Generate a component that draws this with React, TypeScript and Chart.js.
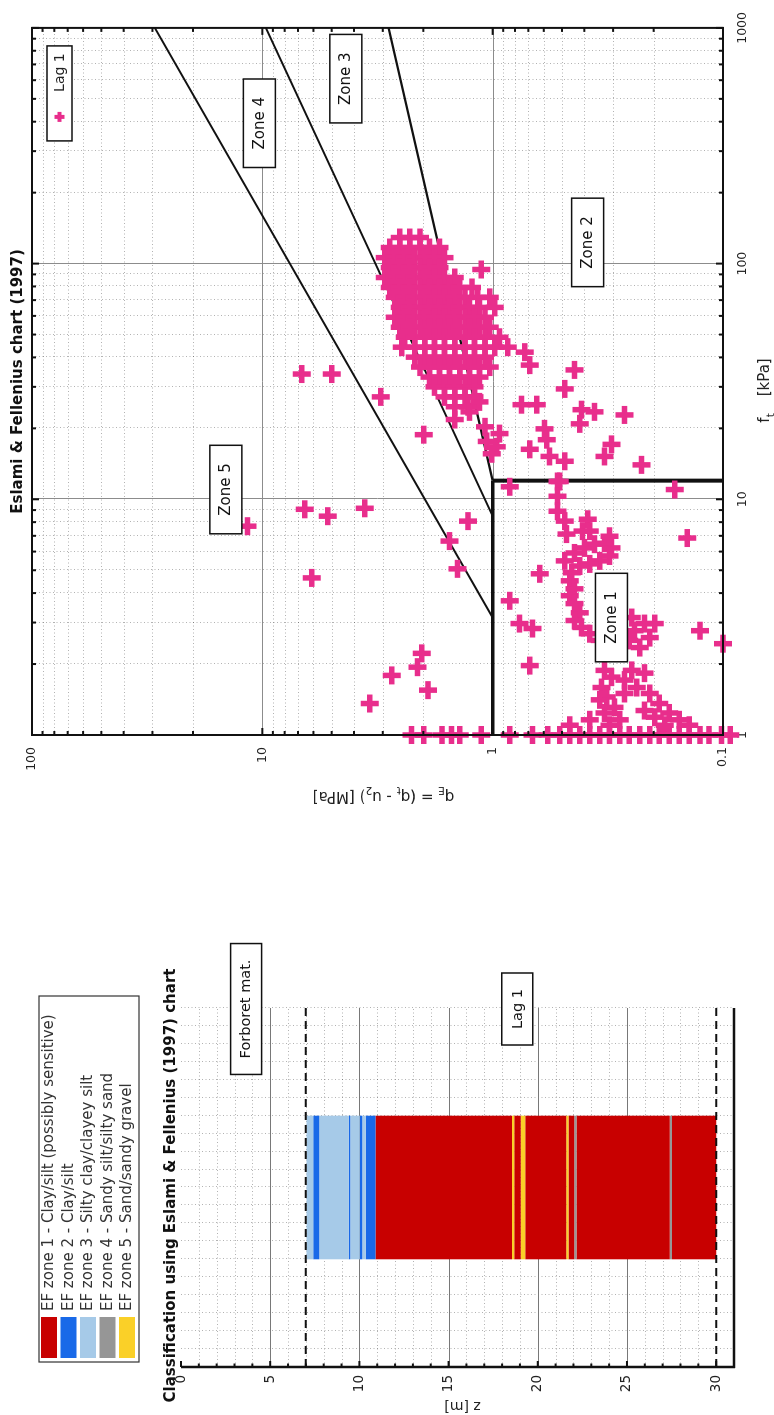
import React, { useEffect, useRef } from "react";
import { Chart, registerables } from "chart.js";

Chart.register(...registerables);

const FONT = '"DejaVu Sans", Verdana, sans-serif';
const PINK = "rgb(232, 46, 140)";

// ---------------- Eslami & Fellenius chart (fs [kPa] vs qE [MPa]) ----------------
const fsTickLabels = [1, 10, 100, 1000];
const qeTickLabels = [0.1, 1, 10, 100];

// dense cloud, read row by row: one fs value per row, qE values along the row
const clusterRowFs = [129, 117, 106, 96.2, 87.3, 79.2, 71.9, 65.2, 59.2, 53.7, 48.7, 44.2, 40.1, 36.4, 33.0, 30.0, 27.2, 24.7];
const clusterRowQe = [
  [2.53, 2.29, 2.07],
  [2.8, 2.53, 2.29, 2.07, 1.88, 1.7],
  [2.94, 2.66, 2.41, 2.18, 1.97, 1.79, 1.62],
  [2.8, 2.53, 2.29, 2.07, 1.88, 1.7],
  [2.94, 2.66, 2.41, 2.18, 1.97, 1.79, 1.62, 1.46],
  [2.8, 2.53, 2.29, 2.07, 1.88, 1.7, 1.54, 1.39, 1.23],
  [2.66, 2.41, 2.18, 1.97, 1.79, 1.62, 1.46, 1.32, 1.16, 1.03],
  [2.53, 2.29, 2.07, 1.88, 1.7, 1.54, 1.39, 1.26, 1.14, 0.98],
  [2.66, 2.41, 2.18, 1.97, 1.79, 1.62, 1.46, 1.32, 1.2, 1.08],
  [2.53, 2.29, 2.07, 1.88, 1.7, 1.54, 1.39, 1.26, 1.14, 1.03],
  [2.41, 2.18, 1.97, 1.79, 1.62, 1.46, 1.32, 1.2, 1.08, 0.933],
  [2.48, 2.18, 1.97, 1.79, 1.62, 1.46, 1.32, 1.2, 1.08, 0.98, 0.861],
  [2.18, 1.97, 1.79, 1.62, 1.46, 1.32, 1.2, 1.08],
  [2.07, 1.88, 1.7, 1.54, 1.39, 1.26, 1.14, 1.03],
  [1.88, 1.7, 1.54, 1.39, 1.26, 1.14],
  [1.79, 1.62, 1.46, 1.32, 1.2],
  [1.62, 1.46, 1.32, 1.2],
  [1.46, 1.28],
];

// [fs, qE]
const zone2Points: [number, number][] = [
  [94.4, 1.12], [42.1, 0.726], [37.1, 0.69], [35.4, 0.441], [29.4, 0.487], [25.2, 0.749], [25.2, 0.644],
  [24.0, 0.411], [23.5, 0.361], [22.8, 0.268], [20.9, 0.419], [19.9, 0.595], [17.9, 0.583], [17.1, 0.305],
  [15.2, 0.327], [16.3, 0.69], [15.2, 0.566], [14.5, 0.487], [14.0, 0.226], [11.3, 0.844], [11.9, 0.512],
  [11.0, 0.162], [17.6, 1.06], [16.7, 0.961], [20.3, 1.08], [19.0, 0.933], [15.6, 1.01], [21.8, 1.46],
  [18.8, 1.99], [23.5, 1.26], [25.9, 1.14],
];

const outlierPoints: [number, number][] = [
  [27.2, 3.06], [34.0, 6.74], [34.0, 4.99], [7.69, 11.6], [9.07, 6.54], [8.48, 5.2], [9.16, 3.59], [4.64, 6.1],
  [8.08, 1.28], [6.65, 1.54], [5.07, 1.42], [2.22, 2.03], [1.94, 2.12], [1.79, 2.74], [1.55, 1.91], [1.36, 3.42],
];

const zone1Points: [number, number][] = [
  [11.9, 0.523], [10.3, 0.523], [8.9, 0.523], [8.08, 0.487], [8.23, 0.387], [7.33, 0.407], [6.85, 0.143],
  [4.83, 0.625], [3.71, 0.844], [2.97, 0.764], [2.83, 0.671], [1.97, 0.69], [2.77, 0.126], [2.44, 0.1],
  [5.48, 0.487], [5.92, 0.441], [6.22, 0.399], [6.45, 0.361], [6.51, 0.327], [6.22, 0.305], [5.75, 0.311],
  [5.48, 0.343], [5.32, 0.379], [5.21, 0.419], [4.88, 0.454], [4.51, 0.463], [4.17, 0.441], [3.9, 0.463],
  [3.61, 0.441], [3.3, 0.419], [3.06, 0.441], [2.86, 0.411], [2.69, 0.379], [2.52, 0.343], [7.33, 0.379],
  [6.97, 0.311], [7.12, 0.478], [3.15, 0.249], [2.97, 0.219], [2.97, 0.198], [2.77, 0.242], [2.52, 0.255],
  [2.35, 0.23], [2.59, 0.208], [1.88, 0.327], [1.76, 0.305], [1.59, 0.337], [1.45, 0.32], [1.31, 0.296],
  [1.24, 0.327], [1.88, 0.249], [1.83, 0.219], [1.59, 0.237], [1.5, 0.208], [1.36, 0.189], [1.27, 0.219],
  [1.24, 0.171], [1.19, 0.198], [1.71, 0.268], [1.5, 0.268], [1.16, 0.155], [1.1, 0.14], [1.1, 0.179],
  [1.1, 0.463], [1.16, 0.379], [1.1, 0.311], [1.16, 0.281], [1.41, 0.343],
];

// points sitting on fs = 1 kPa
const baseRowQe = [2.25, 1.99, 1.66, 1.51, 1.39, 1.12, 0.844, 0.671, 0.577, 0.512, 0.463, 0.419, 0.379, 0.343,
  0.311, 0.281, 0.255, 0.23, 0.208, 0.189, 0.171, 0.155, 0.14, 0.126, 0.115, 0.1015, 0.093];

// zone boundaries, [fs, qE] end points
const boundary45: [number, number][] = [[3.15, 1], [1000, 29.3]];
const boundary34: [number, number][] = [[8.5, 1], [1000, 9.66]];
const boundary23: [number, number][] = [[12, 1], [1000, 2.83]];
const zone1Top: [number, number][] = [[1, 1], [12, 1]];
const zone1Side: [number, number][] = [[12, 0.1], [12, 1]];

const zoneLabelText = ["Zone 1", "Zone 2", "Zone 3", "Zone 4", "Zone 5"];
const zoneLabelFs = [3.15, 123, 609, 394, 11.0];
const zoneLabelQe = [0.305, 0.387, 4.34, 10.3, 14.4];

// ---------------- Classification profile ----------------
const zoneNames = [
  "EF zone 1 - Clay/silt (possibly sensitive)",
  "EF zone 2 - Clay/silt",
  "EF zone 3 - Silty clay/clayey silt",
  "EF zone 4 - Sandy silt/silty sand",
  "EF zone 5 - Sand/sandy gravel",
];
const zoneColors = ["rgb(200, 0, 0)", "rgb(25, 105, 232)", "rgb(166, 202, 232)", "rgb(150, 150, 150)", "rgb(250, 208, 40)"];

const segStart = [7.03, 7.42, 7.75, 9.41, 9.49, 10.02, 10.16, 10.35, 10.9, 18.55, 18.68, 19.05, 19.3, 21.6, 21.72, 22.05, 22.17, 27.4, 27.52];
const segEnd = [7.42, 7.75, 9.41, 9.49, 10.02, 10.16, 10.35, 10.9, 18.55, 18.68, 19.05, 19.3, 21.6, 21.72, 22.05, 22.17, 27.4, 27.52, 30.0];
const segZone = [3, 2, 3, 2, 3, 2, 3, 2, 1, 5, 1, 5, 1, 5, 1, 4, 1, 4, 1];

const zTicks = [0, 5, 10, 15, 20, 25, 30];
const layerBounds = [7.0, 30.0];
const layerNames = ["Forboret mat.", "Lag 1"];
const layerLabelZ = [3.65, 18.85];

// ---------------- helpers ----------------
type Part = { t?: string; sub?: boolean; gap?: number };

function drawRich(ctx: CanvasRenderingContext2D, parts: Part[], cx: number, cy: number, size: number) {
  const subSize = size * 0.7;
  let total = 0;
  const widths = parts.map((p) => {
    if (p.gap !== undefined) {
      total += p.gap;
      return p.gap;
    }
    ctx.font = `${p.sub ? subSize : size}px ${FONT}`;
    const w = ctx.measureText(p.t || "").width;
    total += w;
    return w;
  });
  let x = cx - total / 2;
  ctx.textAlign = "left";
  ctx.textBaseline = "alphabetic";
  const base = cy + size * 0.36;
  parts.forEach((p, i) => {
    if (p.t) {
      ctx.font = `${p.sub ? subSize : size}px ${FONT}`;
      ctx.fillText(p.t, x, p.sub ? base + size * 0.28 : base);
    }
    x += widths[i];
  });
}

function drawBoxLabel(ctx: CanvasRenderingContext2D, text: string, cx: number, cy: number, size: number, padX: number, h: number) {
  ctx.font = `${size}px ${FONT}`;
  const w = ctx.measureText(text).width + padX * 2;
  ctx.fillStyle = "#fff";
  ctx.fillRect(cx - w / 2, cy - h / 2, w, h);
  ctx.strokeStyle = "#111";
  ctx.lineWidth = 1.5;
  ctx.setLineDash([]);
  ctx.strokeRect(cx - w / 2, cy - h / 2, w, h);
  ctx.fillStyle = "#111";
  ctx.textAlign = "center";
  ctx.textBaseline = "middle";
  ctx.fillText(text, cx, cy + 0.5);
}

function seg(ctx: CanvasRenderingContext2D, x1: number, y1: number, x2: number, y2: number) {
  ctx.beginPath();
  ctx.moveTo(x1, y1);
  ctx.lineTo(x2, y2);
  ctx.stroke();
}

const isDecade = (v: number) => Math.abs(Math.log10(v) - Math.round(Math.log10(v))) < 1e-6;

function logGridValues(decades: number[]) {
  const minor: number[] = [];
  decades.forEach((d) => {
    for (let k = 2; k <= 9; k++) minor.push(d * k);
  });
  return minor;
}

// ---------------- plugins ----------------
const eslamiDecor = {
  id: "eslamiDecor",
  beforeDatasetsDraw(chart: any) {
    const { ctx, chartArea: a } = chart;
    const xs = chart.scales.x;
    const ys = chart.scales.y;
    ctx.save();
    ctx.beginPath();
    ctx.rect(a.left, a.top, a.right - a.left, a.bottom - a.top);
    ctx.clip();
    ctx.lineWidth = 1;
    ctx.strokeStyle = "rgba(0,0,0,0.3)";
    ctx.setLineDash([1, 2.5]);
    logGridValues([1, 10, 100]).forEach((v) => {
      const p = Math.round(xs.getPixelForValue(v)) + 0.5;
      seg(ctx, p, a.top, p, a.bottom);
    });
    logGridValues([0.1, 1, 10]).forEach((v) => {
      const p = Math.round(ys.getPixelForValue(v)) + 0.5;
      seg(ctx, a.left, p, a.right, p);
    });
    ctx.setLineDash([]);
    ctx.strokeStyle = "rgb(140,140,140)";
    [10, 100].forEach((v) => {
      const p = Math.round(xs.getPixelForValue(v)) + 0.5;
      seg(ctx, p, a.top, p, a.bottom);
    });
    [1, 10].forEach((v) => {
      const p = Math.round(ys.getPixelForValue(v)) + 0.5;
      seg(ctx, a.left, p, a.right, p);
    });
    ctx.restore();
  },
  afterDraw(chart: any) {
    const { ctx, chartArea: a } = chart;
    const xs = chart.scales.x;
    const ys = chart.scales.y;
    ctx.save();
    // frame
    ctx.strokeStyle = "#111";
    ctx.lineWidth = 2;
    ctx.strokeRect(a.left, a.top, a.right - a.left, a.bottom - a.top);
    // inward ticks
    const xT = [...logGridValues([1, 10, 100]), ...fsTickLabels];
    xT.forEach((v) => {
      const p = xs.getPixelForValue(v);
      const len = isDecade(v) ? 7 : 4;
      seg(ctx, p, a.bottom, p, a.bottom - len);
      seg(ctx, p, a.top, p, a.top + len);
    });
    const yT = [...logGridValues([0.1, 1, 10]), ...qeTickLabels];
    yT.forEach((v) => {
      const p = ys.getPixelForValue(v);
      const len = isDecade(v) ? 7 : 4;
      seg(ctx, a.left, p, a.left + len, p);
      seg(ctx, a.right, p, a.right - len, p);
    });
    // zone labels
    zoneLabelText.forEach((t, i) => {
      drawBoxLabel(ctx, t, xs.getPixelForValue(zoneLabelFs[i]), ys.getPixelForValue(zoneLabelQe[i]), 15, 18, 32);
    });
    // legend
    const lw = 95, lh = 25;
    const lx = a.right - 18 - lw, ly = a.top + 15;
    ctx.fillStyle = "#fff";
    ctx.fillRect(lx, ly, lw, lh);
    ctx.strokeStyle = "#111";
    ctx.lineWidth = 1.5;
    ctx.strokeRect(lx, ly, lw, lh);
    ctx.strokeStyle = PINK;
    ctx.lineWidth = 4;
    const mx = lx + 24, my = ly + lh / 2;
    seg(ctx, mx - 5, my, mx + 5, my);
    seg(ctx, mx, my - 5, mx, my + 5);
    ctx.fillStyle = "#222";
    ctx.font = `14px ${FONT}`;
    ctx.textAlign = "left";
    ctx.textBaseline = "middle";
    ctx.fillText("Lag 1", lx + 49, my + 0.5);
    // title
    ctx.fillStyle = "#111";
    ctx.font = `bold 15px ${FONT}`;
    ctx.textAlign = "center";
    ctx.textBaseline = "middle";
    const cx = (a.left + a.right) / 2;
    ctx.fillText("Eslami & Fellenius chart (1997)", cx, 18.5);
    // axis titles
    ctx.fillStyle = "#222";
    drawRich(ctx, [{ t: "f" }, { t: "t", sub: true }, { gap: 17 }, { t: "[kPa]" }], cx - 9, a.bottom + 41, 15);
    ctx.save();
    ctx.translate(a.left - 62, (a.top + a.bottom) / 2 + 6);
    ctx.rotate(-Math.PI / 2);
    drawRich(
      ctx,
      [{ t: "q" }, { t: "E", sub: true }, { t: " = (q" }, { t: "t", sub: true }, { t: " - u" }, { t: "2", sub: true }, { t: ") [MPa]" }],
      0,
      0,
      15
    );
    ctx.restore();
    ctx.restore();
  },
};

const classDecor = {
  id: "classDecor",
  beforeDatasetsDraw(chart: any) {
    const { ctx, chartArea: a } = chart;
    const ys = chart.scales.y;
    ctx.save();
    ctx.lineWidth = 1;
    ctx.strokeStyle = "rgba(0,0,0,0.3)";
    ctx.setLineDash([1, 2.5]);
    for (let z = 1; z <= 31; z++) {
      if (z % 5 === 0) continue;
      const p = Math.round(ys.getPixelForValue(z)) + 0.5;
      seg(ctx, a.left, p, a.right, p);
    }
    const n = 20;
    for (let i = 1; i <= n; i++) {
      const p = Math.round(a.left + ((a.right - a.left) * i) / n) + 0.5;
      seg(ctx, p, a.top, p, a.bottom);
    }
    ctx.setLineDash([]);
    ctx.strokeStyle = "rgb(120,120,120)";
    zTicks.forEach((z) => {
      if (z === 0 || z === 30) return;
      const p = Math.round(ys.getPixelForValue(z)) + 0.5;
      seg(ctx, a.left, p, a.right, p);
    });
    ctx.restore();
  },
  afterDatasetsDraw(chart: any) {
    const { ctx, chartArea: a } = chart;
    const ys = chart.scales.y;
    ctx.save();
    ctx.strokeStyle = "#111";
    ctx.lineWidth = 2;
    ctx.setLineDash([8, 5]);
    layerBounds.forEach((z) => {
      const p = ys.getPixelForValue(z);
      seg(ctx, a.left, p, a.right, p);
    });
    ctx.setLineDash([]);
    ctx.lineWidth = 2.5;
    seg(ctx, a.left, a.top, a.left, a.bottom + 1);
    seg(ctx, a.left - 1, a.bottom, a.right, a.bottom);
    ctx.lineWidth = 2;
    for (let z = 0; z <= 31; z++) {
      const p = ys.getPixelForValue(z);
      const len = z % 5 === 0 ? 6 : 3.5;
      seg(ctx, a.left, p, a.left + len, p);
    }
    layerNames.forEach((t, i) => {
      drawBoxLabel(ctx, t, a.right - 1, ys.getPixelForValue(layerLabelZ[i]), 14.5, 16, 31);
    });
    ctx.restore();
  },
  afterDraw(chart: any) {
    const { ctx, chartArea: a } = chart;
    ctx.save();
    // title
    ctx.fillStyle = "#111";
    ctx.font = `bold 15px ${FONT}`;
    ctx.textAlign = "center";
    ctx.textBaseline = "middle";
    ctx.fillText("Classification using Eslami & Fellenius (1997) chart", (a.left + a.right) / 2 + 2, a.top - 10);
    // legend
    const bx = 53, by = 39, bw = 366, bh = 100;
    ctx.strokeStyle = "#333";
    ctx.lineWidth = 1.2;
    ctx.strokeRect(bx, by, bw, bh);
    zoneNames.forEach((name, i) => {
      const cy = by + 10 + i * 19.5;
      ctx.fillStyle = zoneColors[i];
      ctx.fillRect(bx + 4, cy - 8, 41, 16);
      ctx.fillStyle = "#333";
      ctx.font = `15px ${FONT}`;
      ctx.textAlign = "left";
      ctx.textBaseline = "middle";
      ctx.fillText(name, bx + 51, cy + 0.5);
    });
    // z axis title
    ctx.save();
    ctx.translate(9, (a.top + a.bottom) / 2 + 5);
    ctx.rotate(-Math.PI / 2);
    ctx.fillStyle = "#222";
    ctx.font = `14px ${FONT}`;
    ctx.textAlign = "center";
    ctx.textBaseline = "middle";
    ctx.fillText("z [m]", 0, 0);
    ctx.restore();
    ctx.restore();
  },
};

// ---------------- chart configs ----------------
function eslamiConfig(): any {
  const toXY = (p: [number, number]) => ({ x: p[0], y: p[1] });
  const lag1 = [
    ...clusterRowFs.flatMap((fs, i) => clusterRowQe[i].map((q) => ({ x: fs, y: q }))),
    ...zone2Points.map(toXY),
    ...outlierPoints.map(toXY),
    ...zone1Points.map(toXY),
    ...baseRowQe.map((q) => ({ x: 1, y: q })),
  ];
  const line = (pts: [number, number][], w: number) => ({
    type: "line",
    data: pts.map(toXY),
    showLine: true,
    borderColor: "#111",
    borderWidth: w,
    pointRadius: 0,
    fill: false,
    order: 1,
  });
  const tickFont = { family: FONT, size: 12.5 };
  return {
    type: "scatter",
    data: {
      datasets: [
        {
          label: "Lag 1",
          data: lag1,
          pointStyle: "cross",
          pointRadius: 9,
          pointBorderWidth: 5.5,
          borderColor: PINK,
          backgroundColor: PINK,
          clip: false,
          order: 0,
        },
        line(boundary45, 2),
        line(boundary34, 2),
        line(boundary23, 2.2),
        line(zone1Top, 3.5),
        line(zone1Side, 4),
      ],
    },
    options: {
      responsive: false,
      animation: false,
      devicePixelRatio: 1,
      events: [],
      layout: { padding: { left: 130, right: 24, top: 32, bottom: 0 } },
      plugins: { legend: { display: false }, tooltip: { enabled: false }, title: { display: false } },
      scales: {
        x: {
          type: "logarithmic",
          position: "bottom",
          min: 1,
          max: 1000,
          grid: { display: false, drawTicks: false },
          border: { display: false },
          ticks: {
            autoSkip: false,
            maxRotation: 0,
            minRotation: 0,
            padding: 12,
            color: "#222",
            font: tickFont,
            callback: (v: number) => (isDecade(v) && fsTickLabels.some((t) => Math.abs(t - v) < 1e-9) ? String(v) : ""),
          },
          afterFit: (s: any) => {
            s.height = 51;
          },
        },
        y: {
          type: "logarithmic",
          position: "left",
          min: 0.1,
          max: 100,
          grid: { display: false, drawTicks: false },
          border: { display: false },
          ticks: {
            autoSkip: false,
            padding: 12,
            color: "#222",
            font: tickFont,
            callback: (v: number) => {
              const hit = qeTickLabels.find((t) => Math.abs(t - v) < 1e-9);
              return hit !== undefined ? String(hit) : "";
            },
          },
          afterFit: (s: any) => {
            s.width = 60;
          },
        },
      },
    },
    plugins: [eslamiDecor],
  };
}

function classificationConfig(): any {
  return {
    type: "bar",
    data: {
      labels: ["Lag 1"],
      datasets: segStart.map((s, i) => ({
        label: zoneNames[segZone[i] - 1],
        data: [[s, segEnd[i]]],
        backgroundColor: zoneColors[segZone[i] - 1],
        borderWidth: 0,
        borderSkipped: false,
        grouped: false,
        barPercentage: 0.4,
        categoryPercentage: 1,
      })),
    },
    options: {
      responsive: false,
      animation: false,
      devicePixelRatio: 1,
      events: [],
      layout: { padding: { left: 0, right: 83, top: 181, bottom: 40 } },
      plugins: { legend: { display: false }, tooltip: { enabled: false }, title: { display: false } },
      scales: {
        x: { type: "category", display: false },
        y: {
          type: "linear",
          min: 0,
          max: 31,
          reverse: true,
          grid: { display: false, drawTicks: false },
          border: { display: false },
          ticks: {
            stepSize: 5,
            includeBounds: false,
            autoSkip: false,
            padding: 8,
            color: "#222",
            font: { family: FONT, size: 13.5 },
            callback: (v: number) => (zTicks.includes(v) ? String(v) : ""),
          },
          afterFit: (s: any) => {
            s.width = 48;
          },
        },
      },
    },
    plugins: [classDecor],
  };
}

export default function App() {
  const leftRef = useRef<HTMLCanvasElement>(null);
  const rightRef = useRef<HTMLCanvasElement>(null);
  useEffect(() => {
    const c1 = new Chart(leftRef.current as HTMLCanvasElement, classificationConfig());
    const c2 = new Chart(rightRef.current as HTMLCanvasElement, eslamiConfig());
    return () => {
      c1.destroy();
      c2.destroy();
    };
  }, []);
  return (
    <div style={{ position: "absolute", left: 0, top: 0, width: 774, height: 1415, overflow: "hidden", background: "#fff" }}>
      <div
        style={{
          position: "absolute",
          left: 0,
          top: 0,
          width: 1415,
          height: 774,
          transformOrigin: "0 0",
          transform: "translate(0px, 1415px) rotate(-90deg)",
        }}
      >
        <canvas ref={leftRef} width={490} height={774} style={{ position: "absolute", left: 0, top: 0, width: 490, height: 774 }} />
        <canvas ref={rightRef} width={925} height={774} style={{ position: "absolute", left: 490, top: 0, width: 925, height: 774 }} />
      </div>
    </div>
  );
}
